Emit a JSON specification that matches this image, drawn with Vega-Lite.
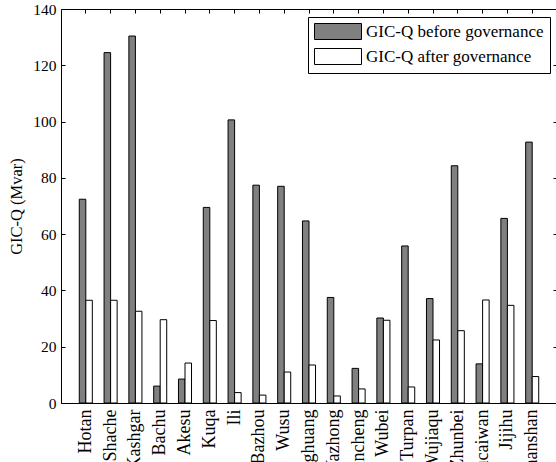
{
  "$schema": "https://vega.github.io/schema/vega-lite/v6.json",
  "autosize": {"type": "none"},
  "padding": {"left": 61, "top": 9, "right": 0, "bottom": 59},
  "width": 496,
  "height": 394,
  "background": "white",
  "data": {"values": [
    {"site": "Hotan", "state": "GIC-Q before governance", "value": 72.4},
    {"site": "Hotan", "state": "GIC-Q after governance", "value": 36.5},
    {"site": "Shache", "state": "GIC-Q before governance", "value": 124.5},
    {"site": "Shache", "state": "GIC-Q after governance", "value": 36.5},
    {"site": "Kashgar", "state": "GIC-Q before governance", "value": 130.4},
    {"site": "Kashgar", "state": "GIC-Q after governance", "value": 32.6},
    {"site": "Bachu", "state": "GIC-Q before governance", "value": 6.0},
    {"site": "Bachu", "state": "GIC-Q after governance", "value": 29.6},
    {"site": "Akesu", "state": "GIC-Q before governance", "value": 8.5},
    {"site": "Akesu", "state": "GIC-Q after governance", "value": 14.2},
    {"site": "Kuqa", "state": "GIC-Q before governance", "value": 69.5},
    {"site": "Kuqa", "state": "GIC-Q after governance", "value": 29.3},
    {"site": "Ili", "state": "GIC-Q before governance", "value": 100.6},
    {"site": "Ili", "state": "GIC-Q after governance", "value": 3.7},
    {"site": "Bazhou", "state": "GIC-Q before governance", "value": 77.4},
    {"site": "Bazhou", "state": "GIC-Q after governance", "value": 2.8},
    {"site": "Wusu", "state": "GIC-Q before governance", "value": 77.0},
    {"site": "Wusu", "state": "GIC-Q after governance", "value": 11.0},
    {"site": "Fenghuang", "state": "GIC-Q before governance", "value": 64.7},
    {"site": "Fenghuang", "state": "GIC-Q after governance", "value": 13.5},
    {"site": "Yazhong", "state": "GIC-Q before governance", "value": 37.5},
    {"site": "Yazhong", "state": "GIC-Q after governance", "value": 2.5},
    {"site": "Dabancheng", "state": "GIC-Q before governance", "value": 12.3},
    {"site": "Dabancheng", "state": "GIC-Q after governance", "value": 5.0},
    {"site": "Wubei", "state": "GIC-Q before governance", "value": 30.2},
    {"site": "Wubei", "state": "GIC-Q after governance", "value": 29.4},
    {"site": "Turpan", "state": "GIC-Q before governance", "value": 55.8},
    {"site": "Turpan", "state": "GIC-Q after governance", "value": 5.7},
    {"site": "Wujiaqu", "state": "GIC-Q before governance", "value": 37.1},
    {"site": "Wujiaqu", "state": "GIC-Q after governance", "value": 22.4},
    {"site": "Zhunbei", "state": "GIC-Q before governance", "value": 84.3},
    {"site": "Zhunbei", "state": "GIC-Q after governance", "value": 25.7},
    {"site": "Wucaiwan", "state": "GIC-Q before governance", "value": 13.9},
    {"site": "Wucaiwan", "state": "GIC-Q after governance", "value": 36.6},
    {"site": "Jijihu", "state": "GIC-Q before governance", "value": 65.6},
    {"site": "Jijihu", "state": "GIC-Q after governance", "value": 34.7},
    {"site": "Shanshan", "state": "GIC-Q before governance", "value": 92.7},
    {"site": "Shanshan", "state": "GIC-Q after governance", "value": 9.4}
  ]},
  "layer": [
    {
      "mark": {"type": "bar", "stroke": "black", "strokeWidth": 1},
      "encoding": {
        "x": {"field": "site", "type": "nominal", "sort": null,
          "scale": {"paddingInner": 0, "paddingOuter": 0.5},
          "axis": {"title": null, "labelAngle": 270, "tickSize": -4, "labelPadding": 10, "labelFontSize": 18, "domainColor": "black", "tickColor": "black"}},
        "xOffset": {"field": "state", "type": "nominal", "sort": ["GIC-Q before governance", "GIC-Q after governance"],
          "scale": {"paddingInner": 0, "paddingOuter": 0.9}},
        "y": {"field": "value", "type": "quantitative",
          "scale": {"domain": [0, 140], "nice": false, "zero": true},
          "axis": {"title": "GIC-Q (Mvar)", "values": [0, 20, 40, 60, 80, 100, 120, 140], "tickSize": -4, "labelPadding": 9, "titlePadding": 8, "titleFontSize": 16.5, "labelFontSize": 15.5, "grid": false, "domainColor": "black", "tickColor": "black"}},
        "color": {"field": "state", "type": "nominal",
          "scale": {"domain": ["GIC-Q before governance", "GIC-Q after governance"], "range": ["#808080", "#ffffff"]},
          "legend": {"title": null, "orient": "none", "legendX": 247, "legendY": 8,
            "symbolType": "M-1,-1 L4.875,-1 L4.875,1 L-1,1 Z", "symbolSize": 256,
            "symbolStrokeColor": "black", "symbolStrokeWidth": 1, "symbolOpacity": 1,
            "labelOffset": 35, "rowPadding": 4, "padding": 6,
            "strokeColor": "black", "fillColor": "white", "labelFontSize": 17, "labelFont": "Liberation Serif", "labelColor": "black", "labelLimit": 400}}
      }
    },
    {
      "mark": {"type": "point", "opacity": 0},
      "encoding": {
        "x": {"field": "site", "type": "nominal", "sort": null,
          "axis": {"orient": "top", "labels": false, "title": null, "tickSize": -4, "domainColor": "black", "tickColor": "black"}},
        "y": {"field": "value", "type": "quantitative",
          "axis": {"orient": "right", "labels": false, "title": null, "values": [0, 20, 40, 60, 80, 100, 120, 140], "tickSize": -4, "grid": false, "domainColor": "black", "tickColor": "black"}}
      }
    }
  ],
  "resolve": {"axis": {"x": "independent", "y": "independent"}},
  "config": {
    "font": "Liberation Serif",
    "view": {"stroke": null},
    "axis": {"labelFont": "Liberation Serif", "labelFontSize": 16, "labelColor": "black", "titleFont": "Liberation Serif", "titleFontSize": 16, "titleFontWeight": "normal", "titleColor": "black", "domainWidth": 1, "tickWidth": 1, "grid": false}
  }
}
